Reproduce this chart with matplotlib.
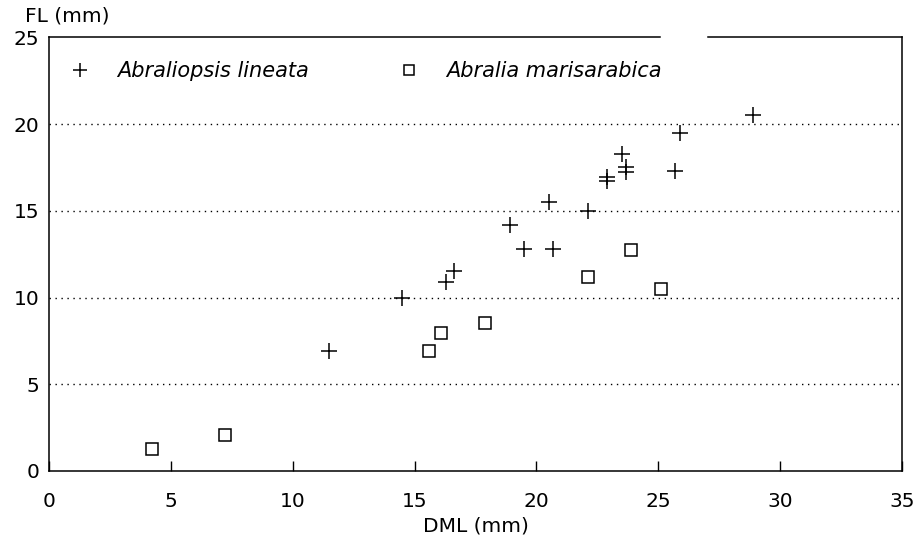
import matplotlib
matplotlib.use("Agg")
import matplotlib.pyplot as plt
import numpy as np

# Abraliopsis lineata (+)
lineata_dml = [11.5, 14.5, 16.3, 16.6, 18.9, 19.5, 20.5, 20.7, 22.1, 22.9, 22.9,
               23.5, 23.7, 23.7, 25.7, 25.9, 28.9]
lineata_fl = [6.9, 10.0, 10.9, 11.5, 14.2, 12.8, 15.5, 12.8, 15.0, 16.95, 16.7,
              18.3, 17.5, 17.25, 17.3, 19.5, 20.5]

# Abralia marisarabica (square)
marisarabica_dml = [4.2, 7.2, 15.6, 16.1, 17.9, 22.1, 23.9, 25.1]
marisarabica_fl = [1.25, 2.07, 6.93, 7.94, 8.55, 11.16, 12.74, 10.47]

x_ticks = [0, 5, 10, 15, 20, 25, 30, 35]
y_ticks = [0, 5, 10, 15, 20, 25]
grid_levels = [5, 10, 15, 20]

plt.rcParams["font.family"] = ["DejaVu Sans"]

fig = plt.figure(figsize=(9.19, 5.43), dpi=100)
ax = fig.add_axes([0.0536, 0.1326, 0.9276, 0.7987])

ax.plot(lineata_dml, lineata_fl, linestyle="none", marker="+", markersize=12,
        markeredgewidth=1.1, color="black", label="Abraliopsis lineata")
ax.plot(marisarabica_dml, marisarabica_fl, linestyle="none", marker="s",
        markersize=8.4, markeredgewidth=1.1, markerfacecolor="white",
        markeredgecolor="black", label="Abralia marisarabica")

for lv in grid_levels:
    ax.axhline(lv, color="black", linewidth=1.0, linestyle=(0, (1, 3.3)), zorder=0)

ax.set_xlim(0, 35)
ax.set_ylim(0, 25)
ax.set_xticks(x_ticks)
ax.set_yticks(y_ticks)
ax.tick_params(axis="x", direction="in", length=7, width=1.0, pad=15,
               labelsize=14.5, colors="black")
ax.tick_params(axis="y", length=0, pad=7, labelsize=14.5, colors="black")

for side in ("left", "bottom", "right"):
    ax.spines[side].set_linewidth(1.1)
    ax.spines[side].set_color("black")
# top spine has a short gap in the original scan
ax.spines["top"].set_visible(False)
ax.plot([0, 0.7165], [1, 1], transform=ax.transAxes, color="black",
        linewidth=1.1, clip_on=False)
ax.plot([0.7728, 1], [1, 1], transform=ax.transAxes, color="black",
        linewidth=1.1, clip_on=False)

ax.set_xlabel("DML (mm)", fontsize=14.5, labelpad=4)
ax.text(-0.0285, 1.049, "FL (mm)", transform=ax.transAxes, ha="left",
        va="center", fontsize=14.5)

leg = ax.legend(loc="center left", bbox_to_anchor=(0.0235, 0.922), ncol=2,
                frameon=False, borderpad=0, borderaxespad=0, handlelength=1.0,
                handletextpad=1.3, columnspacing=4.3, markerscale=0.85,
                prop={"style": "italic", "size": 15})

fig.savefig("out.png", dpi=100, facecolor="white")
